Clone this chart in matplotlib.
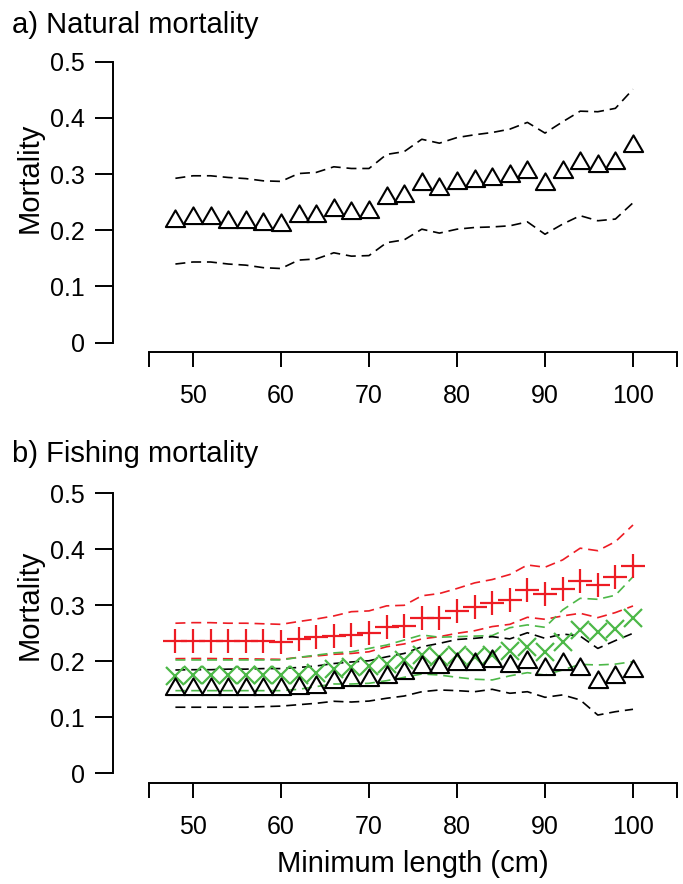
import numpy as np
import matplotlib
matplotlib.use("Agg")
import matplotlib.pyplot as plt
from matplotlib.path import Path

plt.rcParams['font.family'] = ['Liberation Sans', 'DejaVu Sans']

# minimum length (cm)
lengths = list(range(48, 101, 2))

# a) natural mortality, estimate and dashed interval
nat = [0.217, 0.221, 0.221, 0.215, 0.214, 0.211, 0.210, 0.225, 0.226, 0.237, 0.231, 0.232, 0.257, 0.261,
       0.282, 0.274, 0.285, 0.288, 0.291, 0.297, 0.304, 0.282, 0.304, 0.320, 0.314, 0.320, 0.350]
nat_hi = [0.2925, 0.297, 0.297, 0.294, 0.292, 0.288, 0.287, 0.301, 0.303, 0.313, 0.310, 0.310, 0.335, 0.340,
          0.362, 0.355, 0.365, 0.370, 0.374, 0.380, 0.392, 0.373, 0.393, 0.412, 0.411, 0.417, 0.451]
nat_lo = [0.140, 0.1436, 0.1436, 0.140, 0.138, 0.1335, 0.132, 0.147, 0.149, 0.160, 0.154, 0.155, 0.178, 0.183,
          0.202, 0.195, 0.202, 0.205, 0.206, 0.208, 0.215, 0.193, 0.211, 0.226, 0.217, 0.220, 0.249]

# b) fishing mortality, three series
fish_red = [0.237, 0.237, 0.237, 0.237, 0.237, 0.236, 0.235, 0.240, 0.243, 0.246, 0.247, 0.250, 0.261, 0.263,
            0.278, 0.278, 0.290, 0.2975, 0.305, 0.310, 0.327, 0.321, 0.330, 0.344, 0.336, 0.350, 0.370]
fish_red_hi = [0.268, 0.269, 0.269, 0.268, 0.268, 0.267, 0.266, 0.271, 0.2755, 0.281, 0.2886, 0.290, 0.299, 0.300,
               0.317, 0.321, 0.330, 0.340, 0.346, 0.355, 0.372, 0.368, 0.381, 0.402, 0.3975, 0.4136, 0.4434]
fish_red_lo = [0.2047, 0.205, 0.205, 0.2045, 0.2045, 0.204, 0.2035, 0.207, 0.2095, 0.2125, 0.214, 0.217, 0.226, 0.231,
               0.240, 0.244, 0.250, 0.2546, 0.262, 0.266, 0.2786, 0.275, 0.281, 0.2857, 0.278, 0.287, 0.2988]

fish_green = [0.174, 0.1756, 0.1756, 0.175, 0.175, 0.175, 0.175, 0.176, 0.180, 0.187, 0.190, 0.192, 0.196, 0.202,
              0.211, 0.207, 0.211, 0.207, 0.211, 0.218, 0.225, 0.217, 0.234, 0.256, 0.253, 0.2577, 0.277]
fish_green_hi = [0.2024, 0.2024, 0.2024, 0.2024, 0.2024, 0.2024, 0.2024, 0.207, 0.211, 0.215, 0.217, 0.223, 0.229, 0.238,
                 0.247, 0.243, 0.244, 0.245, 0.246, 0.260, 0.265, 0.2607, 0.2917, 0.3125, 0.3107, 0.318, 0.351]
fish_green_lo = [0.1476, 0.1476, 0.1476, 0.1476, 0.1476, 0.1476, 0.1476, 0.150, 0.1548, 0.1595, 0.1595, 0.1607, 0.1654, 0.1714,
                 0.1773, 0.1755, 0.1714, 0.168, 0.1667, 0.174, 0.1797, 0.1755, 0.1845, 0.1946, 0.1934, 0.195, 0.1994]

fish_black = [0.1505, 0.150, 0.150, 0.150, 0.150, 0.150, 0.150, 0.1529, 0.155, 0.163, 0.1667, 0.1667, 0.1726, 0.180,
              0.190, 0.190, 0.195, 0.195, 0.200, 0.191, 0.199, 0.186, 0.195, 0.187, 0.1625, 0.1726, 0.1827]
fish_black_hi = [0.1845, 0.185, 0.185, 0.186, 0.186, 0.187, 0.187, 0.189, 0.1916, 0.196, 0.1988, 0.201, 0.208, 0.214,
                 0.226, 0.232, 0.239, 0.241, 0.244, 0.240, 0.251, 0.241, 0.2488, 0.245, 0.223, 0.237, 0.250]
fish_black_lo = [0.118, 0.118, 0.118, 0.118, 0.118, 0.119, 0.120, 0.1225, 0.125, 0.1286, 0.1273, 0.129, 0.134, 0.138,
                 0.1457, 0.1488, 0.1476, 0.1457, 0.150, 0.1429, 0.1457, 0.1357, 0.140, 0.131, 0.104, 0.110, 0.1143]

x_ticks = [45, 50, 60, 70, 80, 90, 100, 105]
x_labels = ["", "50", "60", "70", "80", "90", "100", ""]
y_ticks = [0, 0.1, 0.2, 0.3, 0.4, 0.5]
y_labels = ["0", "0.1", "0.2", "0.3", "0.4", "0.5"]

RED = "#ED1C24"
GREEN = "#4DB848"

# R style open triangle (pch=2), centred on its centroid
tri = Path([(0, 1), (0.866, -0.5), (-0.866, -0.5), (0, 1)],
           [Path.MOVETO, Path.LINETO, Path.LINETO, Path.CLOSEPOLY])

W, H = 683, 884
fig = plt.figure(figsize=(W / 100, H / 100), dpi=100)


def make_axes(top_px, bottom_px):
    ax = fig.add_axes([149 / W, 1 - bottom_px / H, 528 / W, (bottom_px - top_px) / H])
    ax.set_xlim(45, 105)
    ax.set_ylim(0, 0.5)
    for s in ["top", "right"]:
        ax.spines[s].set_visible(False)
    ax.spines["left"].set_position(("outward", 26))
    ax.spines["bottom"].set_position(("outward", 7))
    ax.spines["left"].set_bounds(0, 0.5)
    ax.spines["bottom"].set_bounds(45, 105)
    for s in ["left", "bottom"]:
        ax.spines[s].set_linewidth(1.4)
    ax.set_xticks(x_ticks)
    ax.set_xticklabels(x_labels)
    ax.set_yticks(y_ticks)
    ax.set_yticklabels(y_labels)
    ax.tick_params(axis="x", length=11, width=1.4, pad=12, labelsize=18)
    ax.tick_params(axis="y", length=13, width=1.4, pad=7, labelsize=18)
    ax.patch.set_visible(False)
    return ax


def dashed(ax, y, color):
    ax.plot(lengths, y, color=color, lw=1.2, dashes=(6, 3.5))


# a) natural mortality
ax1 = make_axes(61.7, 342.7)
dashed(ax1, nat_hi, "black")
dashed(ax1, nat_lo, "black")
ax1.plot(lengths, nat, ls="none", marker=tri, ms=16, mfc="none", mec="black", mew=1.5)
fig.text(12 / W, 1 - 33 / H, "a) Natural mortality", fontsize=21, va="baseline", ha="left")
fig.text(30 / W, 1 - 178 / H, "Mortality", fontsize=21, rotation=90, va="center", ha="center")

# b) fishing mortality
ax2 = make_axes(493.3, 773.3)
for hi, lo, c in [(fish_red_hi, fish_red_lo, RED),
                  (fish_green_hi, fish_green_lo, GREEN),
                  (fish_black_hi, fish_black_lo, "black")]:
    dashed(ax2, hi, c)
    dashed(ax2, lo, c)
ax2.plot(lengths, fish_red, ls="none", marker="+", ms=17, mec=RED, mew=1.6)
ax2.plot(lengths, fish_green, ls="none", marker="x", ms=13, mec=GREEN, mew=1.6)
ax2.plot(lengths, fish_black, ls="none", marker=tri, ms=16, mfc="none", mec="black", mew=1.5)
fig.text(12 / W, 1 - 462 / H, "b) Fishing mortality", fontsize=21, va="baseline", ha="left")
fig.text(30 / W, 1 - 605 / H, "Mortality", fontsize=21, rotation=90, va="center", ha="center")
fig.text(413 / W, 1 - 872 / H, "Minimum length (cm)", fontsize=21, va="baseline", ha="center")

fig.savefig("out.png", dpi=100)
